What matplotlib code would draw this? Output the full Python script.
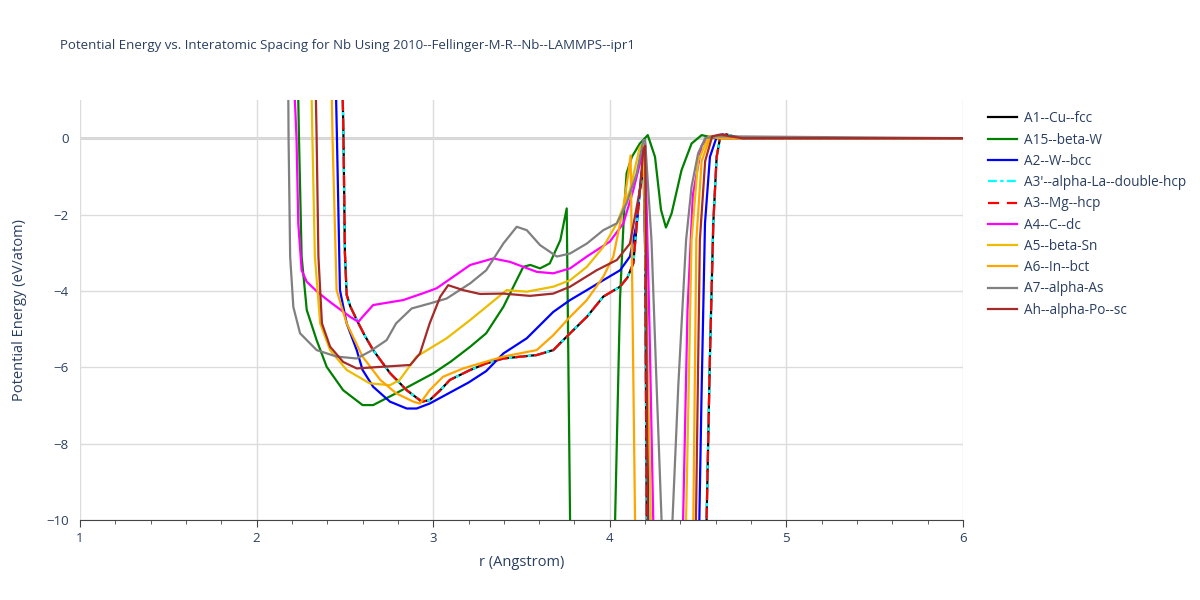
import numpy as np
import matplotlib.pyplot as plt
from matplotlib.ticker import MultipleLocator

plt.rcParams['font.family'] = ['Open Sans', 'DejaVu Sans']

# --- data (r in Angstrom, E in eV/atom) ---
r_a1 = [2.486, 2.492, 2.50, 2.51, 2.53, 2.567, 2.61, 2.66, 2.755, 2.85, 2.935, 2.98, 3.04, 3.095,
        3.21, 3.30, 3.397, 3.50, 3.586, 3.68, 3.775, 3.87, 3.963, 4.058, 4.10, 4.133, 4.17, 4.19,
        4.197, 4.209, 4.22, 4.54, 4.548, 4.567, 4.586, 4.605, 4.624, 4.66, 4.70, 4.75, 6.0]
e_a1 = [1.5, 0.0, -3.0, -4.1, -4.4, -4.76, -5.15, -5.55, -6.15, -6.6, -6.9, -6.86, -6.6, -6.33,
        -6.07, -5.9, -5.77, -5.72, -5.68, -5.55, -5.11, -4.68, -4.15, -3.89, -3.65, -3.28, -1.36, -0.84,
        -0.6, -10, -12, -12, -10, -5.72, -2.23, -0.49, 0.0, 0.1, 0.05, 0.0, 0.0]

r_a15 = [2.234, 2.24, 2.255, 2.284, 2.34, 2.397, 2.49, 2.6, 2.66, 2.79, 3.0, 3.1, 3.21, 3.30, 3.397,
         3.51, 3.55, 3.605, 3.66, 3.72, 3.756, 3.775, 3.78, 4.02, 4.03, 4.058, 4.08, 4.095, 4.125,
         4.17, 4.215, 4.256, 4.29, 4.318, 4.35, 4.406, 4.463, 4.52, 4.6, 6.0]
e_a15 = [1.5, 0.0, -3.1, -4.5, -5.29, -5.99, -6.6, -6.99, -6.99, -6.68, -6.16, -5.85, -5.46, -5.11, -4.42,
         -3.37, -3.32, -3.41, -3.28, -2.67, -1.84, -10, -12, -12, -10, -4.2, -2.0, -0.92, -0.49,
         -0.14, 0.08, -0.49, -1.88, -2.34, -1.97, -0.84, -0.14, 0.08, 0.0, 0.0]

r_a2 = [2.448, 2.455, 2.472, 2.51, 2.567, 2.60, 2.66, 2.755, 2.85, 2.906, 2.98, 3.1, 3.2, 3.30, 3.397,
        3.53, 3.68, 3.775, 3.87, 3.963, 4.058, 4.114, 4.152, 4.18, 4.19, 4.205, 4.218, 4.23, 4.495,
        4.507, 4.52, 4.539, 4.567, 4.605, 4.64, 4.68, 4.75, 6.0]
e_a2 = [1.5, 0.0, -3.98, -4.85, -5.55, -6.07, -6.51, -6.9, -7.08, -7.08, -6.95, -6.65, -6.4, -6.1, -5.64,
        -5.24, -4.55, -4.24, -3.98, -3.72, -3.46, -3.1, -2.23, -0.92, -0.6, -4.0, -10, -12, -12,
        -10, -6.6, -2.23, -0.49, 0.03, 0.1, 0.05, 0.0, 0.0]

r_a4 = [2.212, 2.226, 2.236, 2.255, 2.284, 2.35, 2.416, 2.53, 2.576, 2.6, 2.66, 2.83, 2.95, 3.02, 3.21,
        3.34, 3.435, 3.586, 3.68, 3.775, 3.87, 4.0, 4.077, 4.133, 4.18, 4.2, 4.225, 4.246, 4.26, 4.40,
        4.415, 4.44, 4.47, 4.52, 4.56, 4.65, 6.0]
e_a4 = [1.5, 0.0, -2.23, -3.46, -3.76, -4.05, -4.29, -4.68, -4.81, -4.68, -4.37, -4.24, -4.05, -3.93, -3.32,
        -3.15, -3.24, -3.5, -3.54, -3.41, -3.1, -2.71, -2.23, -1.36, -0.49, -0.15, -5.0, -10, -12, -12,
        -10, -4.5, -1.5, -0.2, 0.05, 0.0, 0.0]

r_a5 = [2.31, 2.316, 2.33, 2.36, 2.416, 2.51, 2.64, 2.755, 2.81, 2.906, 3.076, 3.21, 3.30, 3.416, 3.53,
        3.68, 3.775, 3.87, 3.963, 4.04, 4.114, 4.17, 4.19, 4.21, 4.232, 4.245, 4.42, 4.432, 4.463,
        4.50, 4.56, 4.62, 6.0]
e_a5 = [1.5, 0.0, -3.1, -4.85, -5.55, -6.07, -6.42, -6.47, -6.33, -5.72, -5.24, -4.76, -4.42, -3.98, -4.02,
        -3.89, -3.72, -3.37, -2.85, -2.23, -1.36, -0.23, -0.15, -5.0, -10, -12, -12, -10, -2.67,
        -0.6, 0.05, 0.0, 0.0]

r_a6 = [2.424, 2.43, 2.453, 2.51, 2.6, 2.70, 2.79, 2.887, 2.925, 2.98, 3.055, 3.17, 3.265, 3.397, 3.586,
        3.68, 3.775, 3.87, 3.963, 4.02, 4.077, 4.105, 4.118, 4.143, 4.15, 4.46, 4.473, 4.49, 4.52,
        4.57, 4.63, 6.0]
e_a6 = [1.5, 0.0, -3.98, -4.85, -5.72, -6.33, -6.68, -6.9, -6.95, -6.6, -6.25, -6.03, -5.9, -5.72, -5.55,
        -5.16, -4.68, -4.24, -3.63, -3.1, -1.8, -0.92, -0.45, -10, -12, -12, -10, -2.67, -0.6,
        0.05, 0.0, 0.0]

r_a7 = [2.179, 2.181, 2.19, 2.208, 2.246, 2.34, 2.453, 2.567, 2.64, 2.736, 2.79, 2.878, 2.98, 3.076,
        3.21, 3.30, 3.397, 3.473, 3.53, 3.605, 3.70, 3.775, 3.87, 3.963, 4.04, 4.095, 4.152, 4.19, 4.2,
        4.236, 4.265, 4.293, 4.30, 4.345, 4.355, 4.388, 4.432, 4.463, 4.50, 4.54, 4.6, 6.0]
e_a7 = [1.5, 0.0, -3.1, -4.42, -5.11, -5.55, -5.72, -5.77, -5.59, -5.29, -4.85, -4.46, -4.33, -4.2,
        -3.8, -3.46, -2.76, -2.32, -2.41, -2.8, -3.1, -3.02, -2.76, -2.41, -2.23, -1.71, -0.92, -0.05, -0.05,
        -2.67, -6.47, -10, -12, -12, -10, -6.47, -2.67, -1.27, -0.4, 0.0, 0.05, 0.0]

r_ah = [2.334, 2.34, 2.35, 2.37, 2.416, 2.49, 2.567, 2.70, 2.87, 2.925, 2.98, 3.04, 3.085, 3.17, 3.265,
        3.397, 3.548, 3.68, 3.775, 3.925, 4.04, 4.114, 4.17, 4.19, 4.2, 4.215, 4.225, 4.475, 4.488,
        4.51, 4.54, 4.58, 4.63, 4.68, 4.75, 6.0]
e_ah = [1.5, 0.0, -3.1, -4.85, -5.46, -5.86, -6.03, -5.99, -5.94, -5.64, -4.85, -4.15, -3.85, -3.98, -4.08,
        -4.07, -4.13, -4.07, -3.89, -3.46, -3.19, -2.76, -1.36, -0.3, -0.2, -10, -12, -12, -10,
        -2.67, -0.6, 0.05, 0.1, 0.05, 0.0, 0.0]

series = [
    ("A1--Cu--fcc", r_a1, e_a1, 'black', '-'),
    ("A15--beta-W", r_a15, e_a15, 'green', '-'),
    ("A2--W--bcc", r_a2, e_a2, 'blue', '-'),
    ("A3'--alpha-La--double-hcp", r_a1, e_a1, 'cyan', (0, (4, 1.5, 1.5, 1.5))),
    ("A3--Mg--hcp", r_a1, e_a1, 'red', (0, (5, 3.5))),
    ("A4--C--dc", r_a4, e_a4, 'magenta', '-'),
    ("A5--beta-Sn", r_a5, e_a5, '#ecbc00', '-'),
    ("A6--In--bct", r_a6, e_a6, 'orange', '-'),
    ("A7--alpha-As", r_a7, e_a7, 'gray', '-'),
    ("Ah--alpha-Po--sc", r_ah, e_ah, 'brown', '-'),
]

txt = '#2a3f5f'
fig = plt.figure(figsize=(12, 6), dpi=100)
ax = fig.add_axes([80 / 1200, 80 / 600, 883 / 1200, 420 / 600])

for name, r, e, c, ls in series:
    ax.plot(r, e, color=c, linestyle=ls, linewidth=1.6, label=name)

ax.set_xlim(1, 6)
ax.set_ylim(-10, 1)
ax.set_xticks([1, 2, 3, 4, 5, 6])
ax.set_yticks([0, -2, -4, -6, -8, -10])
ax.set_yticklabels(['0', '\u22122', '\u22124', '\u22126', '\u22128', '\u221210'])
ax.xaxis.set_minor_locator(MultipleLocator(0.2))
ax.grid(True, color='#dcdcdc', linewidth=1)
ax.set_axisbelow(True)
ax.axhline(0, color='#cfcfcf', linewidth=2, zorder=0.5)
for s in ['top', 'right', 'left']:
    ax.spines[s].set_visible(False)
ax.spines['bottom'].set_color('#444444')
ax.tick_params(axis='x', which='major', length=5, color='#444444', labelcolor=txt, labelsize=9.5, pad=4)
ax.tick_params(axis='x', which='minor', length=3, color='#444444')
ax.tick_params(axis='y', length=0, labelcolor=txt, labelsize=9.5, pad=8)

ax.set_xlabel('r (Angstrom)', color=txt, fontsize=10.5, labelpad=7)
ax.set_ylabel('Potential Energy (eV/atom)', color=txt, fontsize=10.5, labelpad=14)
fig.text(60 / 1200, 1 - 45 / 600, 'Potential Energy vs. Interatomic Spacing for Nb Using 2010--Fellinger-M-R--Nb--LAMMPS--ipr1',
         color=txt, fontsize=9.5, va='center', ha='left')

leg = fig.legend(loc='upper left', bbox_to_anchor=(976 / 1200, 1 - 99 / 600), frameon=False,
                 fontsize=9.8, handlelength=2.1, labelspacing=0.46, handletextpad=0.5)
for t in leg.get_texts():
    t.set_color(txt)

fig.savefig('out.png', dpi=100)
